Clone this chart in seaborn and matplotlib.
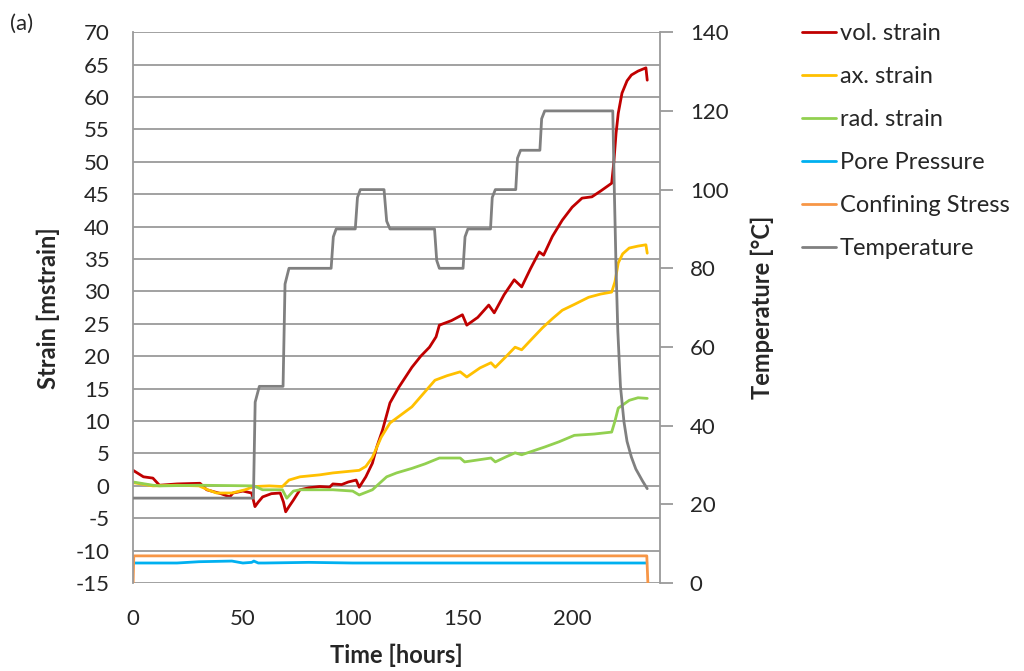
import matplotlib
matplotlib.use("Agg")
import matplotlib.pyplot as plt
import seaborn as sns

# Daten
vol_t = [0, 4.7, 9, 12, 20, 30.5, 33.5, 40, 44, 45.5, 50, 54, 55.5, 57, 59, 63, 67, 68.5, 69.5, 71,
         73, 76, 80, 85, 89.5, 91, 95, 98, 101.6, 103, 106, 109, 111, 113.6, 117, 121, 127, 131, 135, 138,
         139.5, 145, 150, 152, 157, 162, 164.5, 169, 173.6, 177, 181, 185, 187, 191, 195.5, 200, 204.5, 209,
         213, 218, 219, 220, 221, 222.7, 225, 227, 230, 233.6, 234.2]
vol_strain = [2.4, 1.4, 1.2, 0.1, 0.3, 0.4, -0.6, -1.2, -1.7, -1.1, -0.8, -1.1, -3.2, -2.5, -1.7, -1.2, -1.1, -2.5, -4.0, -3.2,
              -2.2, -0.6, -0.3, -0.1, -0.2, 0.3, 0.2, 0.6, 0.9, -0.2, 1.4, 3.5, 6.0, 8.6, 12.8, 15.2, 18.3, 20.0, 21.4, 23.0,
              24.8, 25.5, 26.4, 24.8, 26.0, 27.9, 26.7, 29.5, 31.8, 30.7, 33.5, 36.1, 35.6, 38.5, 41.0, 43.0, 44.4, 44.6,
              45.5, 46.7, 50.0, 54.4, 57.5, 60.6, 62.5, 63.4, 64.0, 64.5, 62.6]

ax_t = [0, 9, 20, 30, 34, 38, 45, 51, 55, 62, 68, 71, 76, 85, 91, 97, 103, 106, 109, 113,
        117, 127, 137.5, 143, 149, 152, 158, 163, 165, 170, 174, 177, 182, 186.5, 191,
        195.5, 201, 207.5, 213, 218, 219.5, 221, 223, 226, 230, 233.6, 234.2]
ax_strain = [0.5, 0.0, 0.1, 0.0, -0.6, -1.1, -1.1, -0.6, -0.1, 0.0, -0.1, 0.9, 1.4, 1.7, 2.0, 2.2, 2.4, 3.0, 4.4, 7.5,
             9.7, 12.2, 16.3, 17.0, 17.6, 16.8, 18.2, 19.0, 18.3, 20.0, 21.4, 21.0, 22.8, 24.4, 25.8,
             27.1, 28.0, 29.1, 29.6, 29.9, 31.5, 34.4, 35.8, 36.7, 37.0, 37.2, 35.9]

rad_t = [0, 9, 12, 30, 55, 59, 68, 70, 73, 76, 91, 100, 103, 109, 115.5, 120, 127, 133, 139.5, 149,
         151, 157, 163, 165, 170, 174, 177, 187.5, 194, 201, 210, 218, 219.5, 221, 226, 230, 234.2]
rad_strain = [0.6, 0.1, 0.0, 0.1, 0.0, -0.6, -0.6, -1.9, -0.8, -0.6, -0.6, -0.8, -1.4, -0.6, 1.4, 2.0, 2.7, 3.4, 4.3, 4.3,
              3.7, 4.0, 4.3, 3.7, 4.5, 5.1, 4.8, 6.0, 6.8, 7.8, 8.0, 8.3, 10.0, 12.0, 13.2, 13.6, 13.5]

pore_t = [0, 20, 30, 45, 50, 54, 55, 57, 60, 80, 100, 150, 200, 234]
pore_pressure = [-11.9, -11.9, -11.7, -11.6, -11.9, -11.8, -11.6, -11.9, -11.9, -11.8, -11.9, -11.9, -11.9, -11.9]

conf_t = [0, 0.3, 50, 100, 150, 200, 234, 234.5]
conf_stress = [-15, -10.8, -10.8, -10.8, -10.8, -10.8, -10.8, -15]

temp_t = [0, 54.8, 55.6, 57.5, 68.3, 69.2, 71, 90.2, 91.2, 92.5, 101.2, 102.2, 103.5, 114.3, 115.5,
          117, 137.3, 138.3, 139.5, 150.3, 151.2, 152.5, 162.8, 163.6, 165, 174.3, 175.1, 176.5, 185.3, 186.1,
          187.5, 218.5, 219.2, 220, 220.8, 222, 223.6, 225, 227, 229, 232, 234.2]
temperature = [21.6, 21.6, 46, 50, 50, 76, 80, 80, 88, 90, 90, 98, 100, 100, 92,
               90, 90, 82, 80, 80, 88, 90, 90, 98, 100, 100, 108, 110, 110, 118,
               120, 120, 100, 80, 64, 50, 41, 36, 32, 29, 26, 24]

labels = ["vol. strain", "ax. strain", "rad. strain", "Pore Pressure", "Confining Stress", "Temperature"]
colors = ["#C00000", "#FFC000", "#92D050", "#00B0F0", "#F79646", "#808080"]

sns.set_style("white")
plt.rcParams["font.family"] = ["Lato", "DejaVu Sans"]
plt.rcParams["axes.unicode_minus"] = False
grid_col = "#9a9a9a"
txt_col = "#262626"

fig = plt.figure(figsize=(10.24, 6.71), dpi=100)
ax = fig.add_axes([0.130, 0.131, 0.5145, 0.821])
ax2 = ax.twinx()

lw = 2.0
series = [(vol_t, vol_strain), (ax_t, ax_strain), (rad_t, rad_strain),
          (pore_t, pore_pressure), (conf_t, conf_stress)]
for (t, v), lab, c in zip(series, labels[:5], colors[:5]):
    sns.lineplot(x=t, y=v, ax=ax, color=c, linewidth=lw, label=lab, estimator=None, sort=False)
sns.lineplot(x=temp_t, y=temperature, ax=ax2, color=colors[5], linewidth=lw, label=labels[5],
             estimator=None, sort=False)

# Achsen
ax.set_xlim(0, 240)
ax.set_ylim(-15, 70)
ax.set_yticks(range(-15, 71, 5))
ax.set_xticks([0, 50, 100, 150, 200])
ax2.set_ylim(0, 140)
ax2.set_yticks(range(0, 141, 20))

ax.yaxis.grid(True, color=grid_col, linewidth=1.3)
ax.xaxis.grid(False)
ax.set_axisbelow(True)
for s in ["top", "bottom", "right"]:
    ax.spines[s].set_visible(False)
ax.spines["left"].set_color(grid_col)
ax.spines["left"].set_linewidth(1.3)
for s in ["top", "bottom", "left"]:
    ax2.spines[s].set_visible(False)
ax2.spines["right"].set_color(grid_col)
ax2.spines["right"].set_linewidth(1.3)

ax.tick_params(axis="y", length=0, labelsize=16, labelcolor=txt_col, pad=17)
ax.tick_params(axis="x", length=0, labelsize=16, labelcolor=txt_col, pad=19)
ax2.tick_params(axis="y", length=9, width=1.3, color=grid_col, labelsize=16, labelcolor=txt_col, pad=12.5)

ax.set_xlabel("Time [hours]", fontsize=17, fontweight="bold", color=txt_col, labelpad=10)
ax.set_ylabel("Strain [mstrain]", fontsize=17, fontweight="bold", color=txt_col, labelpad=11)
ax2.set_ylabel("Temperature [°C]", fontsize=17, fontweight="bold", color=txt_col, labelpad=16)

# Legende
h1, l1 = ax.get_legend_handles_labels()
h2, l2 = ax2.get_legend_handles_labels()
ax.get_legend().remove()
ax2.get_legend().remove()
fig.legend(h1 + h2, l1 + l2, loc="upper left", bbox_to_anchor=(0.762, 0.997), frameon=False,
           fontsize=17, handlelength=1.45, handletextpad=0.17, labelspacing=0.93, labelcolor=txt_col)

fig.text(0.01, 0.955, "(a)", fontsize=16, color=txt_col)

fig.savefig("out.png", dpi=100)
